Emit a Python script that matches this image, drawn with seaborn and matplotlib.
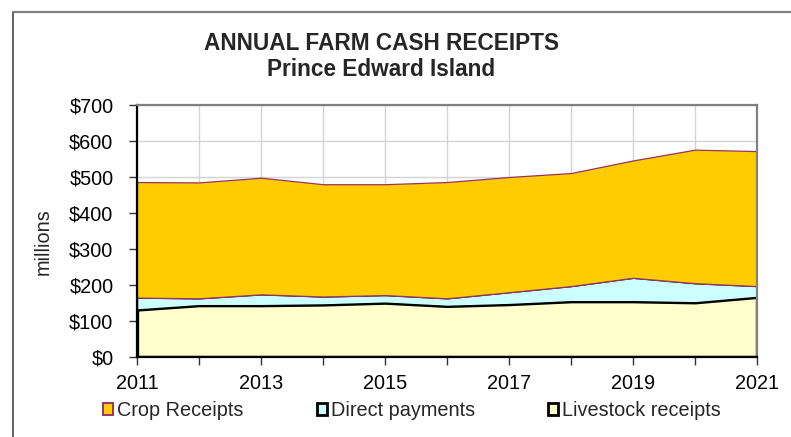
"""
Annual farm cash receipts, Prince Edward Island: stacked area chart.
Run:
    python plot.py
"""

import matplotlib
matplotlib.use("Agg")          # headless, saves to file
import matplotlib.pyplot as plt
from matplotlib.lines import Line2D
from matplotlib.patches import Patch
import seaborn as sns

# ─────────────────────────────────────────────────────────────────────────────
# Data (millions of dollars)
# ─────────────────────────────────────────────────────────────────────────────

years = [2011, 2012, 2013, 2014, 2015, 2016, 2017, 2018, 2019, 2020, 2021]
livestock = [132, 144, 144, 146, 151, 142, 147, 155, 155, 152, 167]
direct = [33, 19, 30, 22, 21, 21, 33, 42, 65, 53, 30]
crop = [321, 322, 324, 312, 308, 323, 320, 314, 326, 371, 375]

series_labels = ["Livestock receipts", "Direct payments", "Crop Receipts"]
y_ticks = [0, 100, 200, 300, 400, 500, 600, 700]
x_labels = [str(y) if y % 2 == 1 else "" for y in years]

FILL = {"Livestock receipts": "#FFFFCC", "Direct payments": "#CCFFFF", "Crop Receipts": "#FFCC00"}
EDGE = {"Livestock receipts": "black", "Direct payments": "black", "Crop Receipts": "#993366"}
WIDTH = {"Livestock receipts": 2.4, "Direct payments": 1.0, "Crop Receipts": 0.9}

W, H = 791, 437

sns.set_theme(style="whitegrid")
plt.rcParams["font.family"] = ["Liberation Sans", "DejaVu Sans"]

fig = plt.figure(figsize=(W / 100, H / 100), dpi=100)
ax = fig.add_axes([137 / W, 1 - 357 / H, 620 / W, 252 / H])

polys = ax.stackplot(years, livestock, direct, crop,
                     colors=[FILL[s] for s in series_labels], zorder=3)
for poly, name in zip(polys, series_labels):
    poly.set_edgecolor(EDGE[name])
    poly.set_linewidth(WIDTH[name])
    poly.set_joinstyle("miter")

ax.set_xlim(years[0], years[-1])
ax.set_ylim(0, 700)
ax.set_xticks(years)
ax.set_xticklabels(x_labels)
ax.set_yticks(y_ticks)
ax.set_yticklabels([f"${v}" for v in y_ticks])

ax.grid(True, color="#d4d4d4", linewidth=1.0, zorder=0)
ax.set_axisbelow(True)
ax.tick_params(axis="both", which="both", direction="out", length=6,
               width=1.0, color="#333333", labelsize=14.3, labelcolor="black",
               bottom=True, left=True)
ax.tick_params(axis="y", pad=11)
ax.tick_params(axis="x", pad=6)

for side in ["left", "bottom"]:
    ax.spines[side].set_color("black")
    ax.spines[side].set_linewidth(1.6)
for side in ["top", "right"]:
    ax.spines[side].set_color("#808080")
    ax.spines[side].set_linewidth(1.6)
    ax.spines[side].set_visible(True)
for sp in ax.spines.values():
    sp.set_zorder(5)

# Title and axis label placed in pixel coordinates
fig.text(381 / W, 1 - 43 / H, "ANNUAL FARM CASH RECEIPTS", ha="center", va="center",
         fontsize=16.3, fontweight="bold")
fig.text(381 / W, 1 - 70 / H, "Prince Edward Island", ha="center", va="center",
         fontsize=16.3, fontweight="bold")
fig.text(43 / W, 1 - 242 / H, "millions", rotation=90, ha="center", va="center",
         fontsize=14.3)

# Legend, Excel order: Crop, Direct, Livestock
handles = [Patch(facecolor=FILL[s], edgecolor=EDGE[s],
                 linewidth=2.0 if s != "Crop Receipts" else 1.4)
           for s in reversed(series_labels)]
fig.legend(handles, list(reversed(series_labels)), ncol=3, frameon=False,
           loc="center left", bbox_to_anchor=(103 / W, 1 - 411 / H),
           borderaxespad=0, borderpad=0, handlelength=0.5, handleheight=0.55,
           handletextpad=0.2, columnspacing=3.7, fontsize=14.3)

# Outer chart frame (cropped on the right and bottom)
fig.add_artist(Line2D([13 / W, 13 / W], [0, 1 - 12 / H], transform=fig.transFigure,
                      color="#555555", linewidth=1.3))
fig.add_artist(Line2D([13 / W, 1], [1 - 12 / H, 1 - 12 / H], transform=fig.transFigure,
                      color="#808080", linewidth=1.6))

fig.savefig("out.png", dpi=100)
plt.close(fig)
